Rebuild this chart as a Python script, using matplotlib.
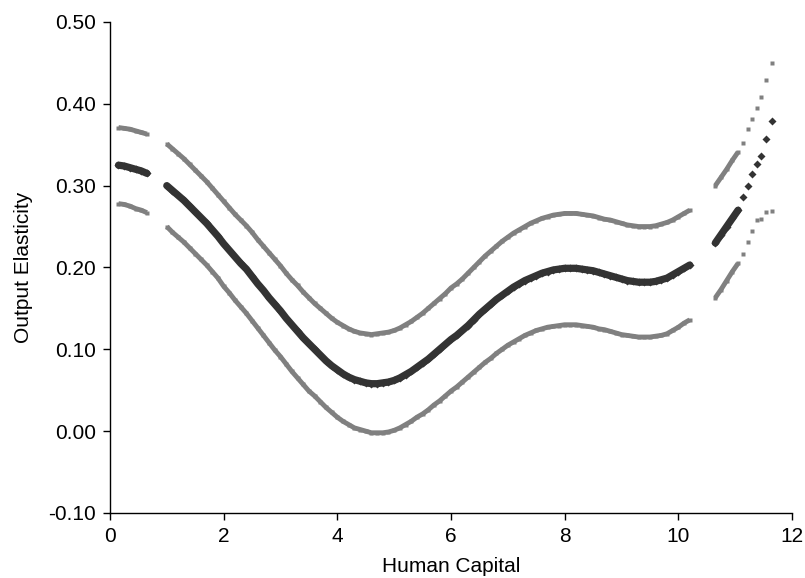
import matplotlib
matplotlib.use("Agg")
import matplotlib.pyplot as plt

plt.rcParams['font.family'] = ['Liberation Sans', 'DejaVu Sans']

# ---------------- data ----------------
# segment A (left, short)
xa = [0.15, 0.25, 0.35, 0.45, 0.55, 0.65]
mid_a = [0.325, 0.324, 0.322, 0.320, 0.318, 0.315]
up_a = [0.371, 0.370, 0.369, 0.367, 0.365, 0.363]
lo_a = [0.278, 0.277, 0.275, 0.272, 0.270, 0.267]

# segment B (main)
xb = [round(1.0 + 0.1 * i, 1) for i in range(93)]
mid_b = [0.300, 0.294, 0.288, 0.282, 0.275, 0.268, 0.261, 0.254, 0.246, 0.238,
         0.229, 0.221, 0.213, 0.205, 0.198, 0.189, 0.180, 0.172, 0.163, 0.155,
         0.147, 0.138, 0.130, 0.122, 0.114, 0.107, 0.100, 0.093, 0.086, 0.080,
         0.075, 0.070, 0.066, 0.063, 0.061, 0.059, 0.058, 0.058, 0.059, 0.060,
         0.062, 0.065, 0.069, 0.073, 0.078, 0.083, 0.088, 0.094, 0.100, 0.106,
         0.112, 0.117, 0.123, 0.129, 0.136, 0.143, 0.149, 0.155, 0.161, 0.166,
         0.171, 0.176, 0.180, 0.184, 0.187, 0.190, 0.193, 0.195, 0.197, 0.198,
         0.199, 0.199, 0.199, 0.198, 0.197, 0.196, 0.194, 0.192, 0.190, 0.188,
         0.186, 0.184, 0.183, 0.182, 0.182, 0.182, 0.183, 0.185, 0.187, 0.191,
         0.195, 0.199, 0.203]
up_b = [0.351, 0.345, 0.339, 0.333, 0.326, 0.319, 0.312, 0.305, 0.297, 0.289,
        0.281, 0.273, 0.265, 0.258, 0.251, 0.243, 0.234, 0.226, 0.218, 0.210,
        0.202, 0.193, 0.185, 0.178, 0.170, 0.163, 0.156, 0.150, 0.144, 0.138,
        0.133, 0.129, 0.125, 0.122, 0.120, 0.119, 0.118, 0.119, 0.120, 0.121,
        0.123, 0.126, 0.130, 0.134, 0.139, 0.144, 0.150, 0.156, 0.162, 0.168,
        0.175, 0.180, 0.186, 0.193, 0.200, 0.207, 0.214, 0.220, 0.226, 0.232,
        0.237, 0.242, 0.246, 0.250, 0.254, 0.257, 0.260, 0.262, 0.264, 0.265,
        0.266, 0.266, 0.266, 0.265, 0.264, 0.263, 0.261, 0.259, 0.258, 0.256,
        0.254, 0.252, 0.251, 0.250, 0.250, 0.250, 0.251, 0.253, 0.255, 0.258,
        0.262, 0.266, 0.270]
lo_b = [0.250, 0.243, 0.237, 0.231, 0.224, 0.217, 0.210, 0.203, 0.195, 0.187,
        0.177, 0.169, 0.160, 0.152, 0.144, 0.135, 0.126, 0.117, 0.108, 0.099,
        0.091, 0.082, 0.073, 0.065, 0.057, 0.049, 0.043, 0.036, 0.029, 0.023,
        0.017, 0.012, 0.008, 0.004, 0.002, 0.000, -0.002, -0.002, -0.002, -0.001,
        0.001, 0.004, 0.008, 0.012, 0.017, 0.021, 0.026, 0.032, 0.037, 0.043,
        0.049, 0.054, 0.060, 0.066, 0.072, 0.078, 0.084, 0.089, 0.095, 0.100,
        0.105, 0.109, 0.113, 0.117, 0.120, 0.123, 0.125, 0.127, 0.128, 0.129,
        0.130, 0.130, 0.130, 0.129, 0.128, 0.127, 0.125, 0.124, 0.122, 0.120,
        0.118, 0.117, 0.116, 0.115, 0.115, 0.115, 0.116, 0.117, 0.119, 0.123,
        0.127, 0.132, 0.136]

# segment C (right, short dense)
xc = [10.65, 10.75, 10.85, 10.95, 11.05]
mid_c = [0.230, 0.240, 0.250, 0.260, 0.270]
up_c = [0.300, 0.310, 0.320, 0.331, 0.341]
lo_c = [0.163, 0.173, 0.184, 0.195, 0.205]

# sparse points at the far right
xd = [11.13, 11.22, 11.30, 11.38, 11.45, 11.54, 11.65]
mid_d = [0.286, 0.300, 0.314, 0.326, 0.336, 0.357, 0.379]
up_d = [0.352, 0.369, 0.382, 0.395, 0.408, 0.429, 0.450]
lo_d = [0.217, 0.231, 0.244, 0.258, 0.259, 0.268, 0.269]

yticks = [-0.10, 0.00, 0.10, 0.20, 0.30, 0.40, 0.50]
ytick_labels = ["-0.10", "0.00", "0.10", "0.20", "0.30", "0.40", "0.50"]
xticks = [0, 2, 4, 6, 8, 10, 12]

# ---------------- plot ----------------
fig = plt.figure(figsize=(8.05, 5.78), dpi=100)
ax = fig.add_axes([0.1366, 0.1125, 0.8473, 0.8495])

BLACK = '#333333'
GRAY = '#808080'

for xs, m, u, l in [(xa, mid_a, up_a, lo_a), (xb, mid_b, up_b, lo_b), (xc, mid_c, up_c, lo_c)]:
    ax.plot(xs, u, color=GRAY, lw=3.5, marker='s', ms=3.5, mec='none', solid_capstyle='butt')
    ax.plot(xs, l, color=GRAY, lw=3.5, marker='s', ms=3.5, mec='none', solid_capstyle='butt')
    ax.plot(xs, m, color=BLACK, lw=5.2, marker='D', ms=4.3, mec='none', solid_capstyle='round')

ax.plot(xd, up_d, ls='none', color=GRAY, marker='s', ms=3.5, mec='none')
ax.plot(xd, lo_d, ls='none', color=GRAY, marker='s', ms=3.5, mec='none')
ax.plot(xd, mid_d, ls='none', color=BLACK, marker='D', ms=4.3, mec='none')

ax.set_xlim(0, 12)
ax.set_ylim(-0.10, 0.50)
ax.set_xticks(xticks)
ax.set_yticks(yticks)
ax.set_yticklabels(ytick_labels)

for s in ['top', 'right']:
    ax.spines[s].set_visible(False)
for s in ['left', 'bottom']:
    ax.spines[s].set_linewidth(1.0)
    ax.spines[s].set_color('black')

ax.tick_params(axis='both', direction='out', length=5, width=1.0, labelsize=15, colors='black')
ax.tick_params(axis='x', pad=5)
ax.tick_params(axis='y', pad=5)

ax.set_xlabel("Human Capital", fontsize=15, labelpad=8)
ax.set_ylabel("Output Elasticity", fontsize=15, labelpad=11)

fig.savefig("out.png", dpi=100)
